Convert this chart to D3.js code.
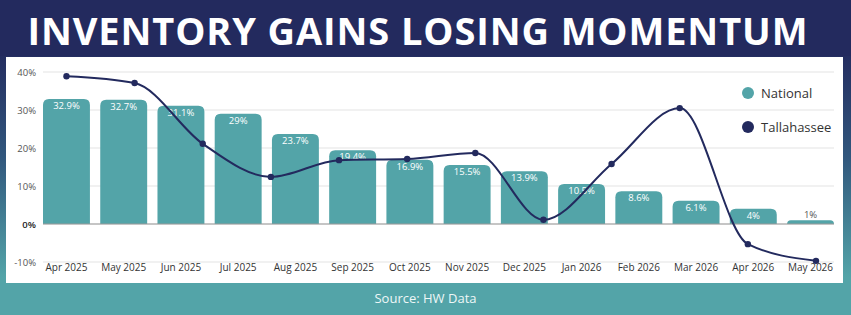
<!DOCTYPE html>
<html>
<head>
<meta charset="utf-8">
<script src="https://cdn.jsdelivr.net/npm/d3@7"></script>
<style>
	html, body { margin: 0; padding: 0; background: #fff; }
	svg { display: block; }
	text { font-family: 'Open Sans', 'DejaVu Sans', sans-serif; }
</style>
</head>
<body>
<svg id="chart" width="851" height="315"></svg>
<script>
'use strict';

// chart data
var aMonths = ['Apr 2025','May 2025','Jun 2025','Jul 2025','Aug 2025','Sep 2025','Oct 2025',
	'Nov 2025','Dec 2025','Jan 2026','Feb 2026','Mar 2026','Apr 2026','May 2026'];
var aNational = [32.9, 32.7, 31.1, 29, 23.7, 19.4, 16.9, 15.5, 13.9, 10.5, 8.6, 6.1, 4, 1];
// Tallahassee has 12 points, spread evenly over the same width
var aTallahassee = [38.9, 37.1, 21.1, 12.4, 16.8, 17.1, 18.7, 1.1, 15.8, 30.5, -5.3, -9.7];
var aYTicks = [-10, 0, 10, 20, 30, 40];
var aLegends = ['National', 'Tallahassee'];

var strTitle = 'INVENTORY GAINS LOSING MOMENTUM';
var strSource = 'Source: HW Data';

var cNavy = '#232a5e';
var cTeal = '#53a4a8';

function DrawChart(vSelector)
{
	var sSvg = d3.select(vSelector);
	var nW = +sSvg.attr('width');
	var nH = +sSvg.attr('height');

	// background gradient
	var sGrad = sSvg.append('defs').append('linearGradient')
		.attr('id', 'bg').attr('x1', 0).attr('y1', 0).attr('x2', 0).attr('y2', 1);
	sGrad.append('stop').attr('offset', '0.15').attr('stop-color', cNavy);
	sGrad.append('stop').attr('offset', '0.5').attr('stop-color', '#31577d');
	sGrad.append('stop').attr('offset', '0.88').attr('stop-color', cTeal);

	sSvg.append('rect').attr('width', nW).attr('height', nH).attr('fill', 'url(#bg)');
	sSvg.append('rect').attr('x', 0).attr('y', 0).attr('width', nW).attr('height', 56).attr('fill', cNavy);
	sSvg.append('rect').attr('x', 0).attr('y', 284).attr('width', nW).attr('height', nH - 284).attr('fill', cTeal);

	// title, spaced out to fill the header width
	var sTitle = sSvg.append('text')
		.attr('x', nW / 2 - 8).attr('y', 45)
		.attr('text-anchor', 'middle')
		.style('font-family', "'Open Sans', sans-serif")
		.style('font-weight', 'bold')
		.style('font-size', '38px')
		.attr('fill', '#ffffff')
		.text(strTitle);
	var nTitleW = sTitle.node().getComputedTextLength();
	var nGap = (780 - nTitleW) / (strTitle.length - 1);
	if (nGap > 0)
	{
		sTitle.style('letter-spacing', nGap + 'px').attr('x', nW / 2 - 8 + nGap / 2);
	}

	// white panel
	sSvg.append('rect').attr('x', 6).attr('y', 57).attr('width', 837).attr('height', 226).attr('fill', '#ffffff');

	// footer
	sSvg.append('text')
		.attr('x', nW / 2).attr('y', 303)
		.attr('text-anchor', 'middle')
		.style('font-size', '13px')
		.attr('fill', '#eef7f7')
		.text(strSource);

	var scaleX = d3.scaleBand()
		.domain(aMonths)
		.range([43, 834])
		.paddingInner(0.18)
		.paddingOuter(0);

	var scaleY = d3.scaleLinear()
		.domain([-10, 40])
		.range([262, 72]);

	var nFirst = scaleX(aMonths[0]) + scaleX.bandwidth() / 2;
	var scaleLineX = d3.scaleLinear()
		.domain([0, aTallahassee.length - 1])
		.range([nFirst, 816]);

	// grid
	var sGrid = sSvg.append('g');
	sGrid.selectAll('line')
		.data(aYTicks)
		.enter()
			.append('line')
				.attr('x1', 43).attr('x2', 834)
				.attr('y1', function(d) { return scaleY(d); })
				.attr('y2', function(d) { return scaleY(d); })
				.attr('stroke', '#e3e3e3')
				.attr('stroke-width', 1);

	// y axis
	var axisY = d3.axisLeft(scaleY)
		.tickValues(aYTicks)
		.tickSize(0)
		.tickPadding(0)
		.tickFormat(function(d) { return d + '%'; });
	var sAxisY = sSvg.append('g').attr('transform', 'translate(36,0)').call(axisY);
	sAxisY.select('.domain').remove();
	sAxisY.selectAll('text')
		.style('font-size', '9.5px')
		.style('font-family', "'Open Sans', sans-serif")
		.attr('fill', function(d) { return d === 0 ? '#222' : '#555'; })
		.style('font-weight', function(d) { return d === 0 ? '600' : 'normal'; });

	// bars with rounded tops
	function BarPath(x, y, w, h, r)
	{
		r = Math.min(r, h, w / 2);
		return 'M' + x + ',' + (y + h) +
			'V' + (y + r) +
			'Q' + x + ',' + y + ' ' + (x + r) + ',' + y +
			'H' + (x + w - r) +
			'Q' + (x + w) + ',' + y + ' ' + (x + w) + ',' + (y + r) +
			'V' + (y + h) + 'Z';
	}

	var sBars = sSvg.append('g').selectAll('g')
		.data(aNational)
		.enter()
			.append('g');

	sBars.append('path')
		.attr('d', function(d, i) {
			var y = scaleY(d);
			return BarPath(scaleX(aMonths[i]), y, scaleX.bandwidth(), scaleY(0) - y, 6);
		})
		.attr('fill', cTeal);

	sBars.append('text')
		.attr('x', function(d, i) { return scaleX(aMonths[i]) + scaleX.bandwidth() / 2; })
		.attr('y', function(d) { return d < 3 ? scaleY(d) - 2 : scaleY(d) + 10; })
		.attr('text-anchor', 'middle')
		.style('font-size', '9.5px')
		.attr('fill', function(d) { return d < 3 ? '#555' : '#ffffff'; })
		.text(function(d) { return d + '%'; });

	// zero line
	sSvg.append('line')
		.attr('x1', 43).attr('x2', 834)
		.attr('y1', scaleY(0)).attr('y2', scaleY(0))
		.attr('stroke', '#9a9a9a').attr('stroke-width', 1.2);

	// x axis
	var axisX = d3.axisBottom(scaleX).tickSize(0).tickPadding(0);
	var sAxisX = sSvg.append('g').attr('transform', 'translate(0,264)').call(axisX);
	sAxisX.select('.domain').remove();
	sAxisX.selectAll('text')
		.style('font-size', '10px')
		.style('font-family', "'Open Sans', sans-serif")
		.attr('fill', '#333');

	// Tallahassee line
	var line = d3.line()
		.x(function(d, i) { return scaleLineX(i); })
		.y(function(d) { return scaleY(d); })
		.curve(d3.curveMonotoneX);

	sSvg.append('path')
		.datum(aTallahassee)
		.attr('d', line)
		.attr('fill', 'none')
		.attr('stroke', cNavy)
		.attr('stroke-width', 2);

	sSvg.append('g').selectAll('circle')
		.data(aTallahassee)
		.enter()
			.append('circle')
				.attr('cx', function(d, i) { return scaleLineX(i); })
				.attr('cy', function(d) { return scaleY(d); })
				.attr('r', 3.2)
				.attr('fill', cNavy);

	// legend
	var aLegendColors = [cTeal, cNavy];
	var sLegends = sSvg.append('g').selectAll('g')
		.data(aLegends)
		.enter()
			.append('g')
				.attr('transform', function(d, i) { return 'translate(748,' + (93 + i * 34) + ')'; });

	sLegends.append('circle')
		.attr('r', 6)
		.attr('fill', function(d, i) { return aLegendColors[i]; });

	sLegends.append('text')
		.attr('x', 13)
		.attr('dy', '0.35em')
		.style('font-size', '13px')
		.attr('fill', '#333')
		.text(function(d) { return d; });
}

DrawChart('#chart');
</script>
</body>
</html>
